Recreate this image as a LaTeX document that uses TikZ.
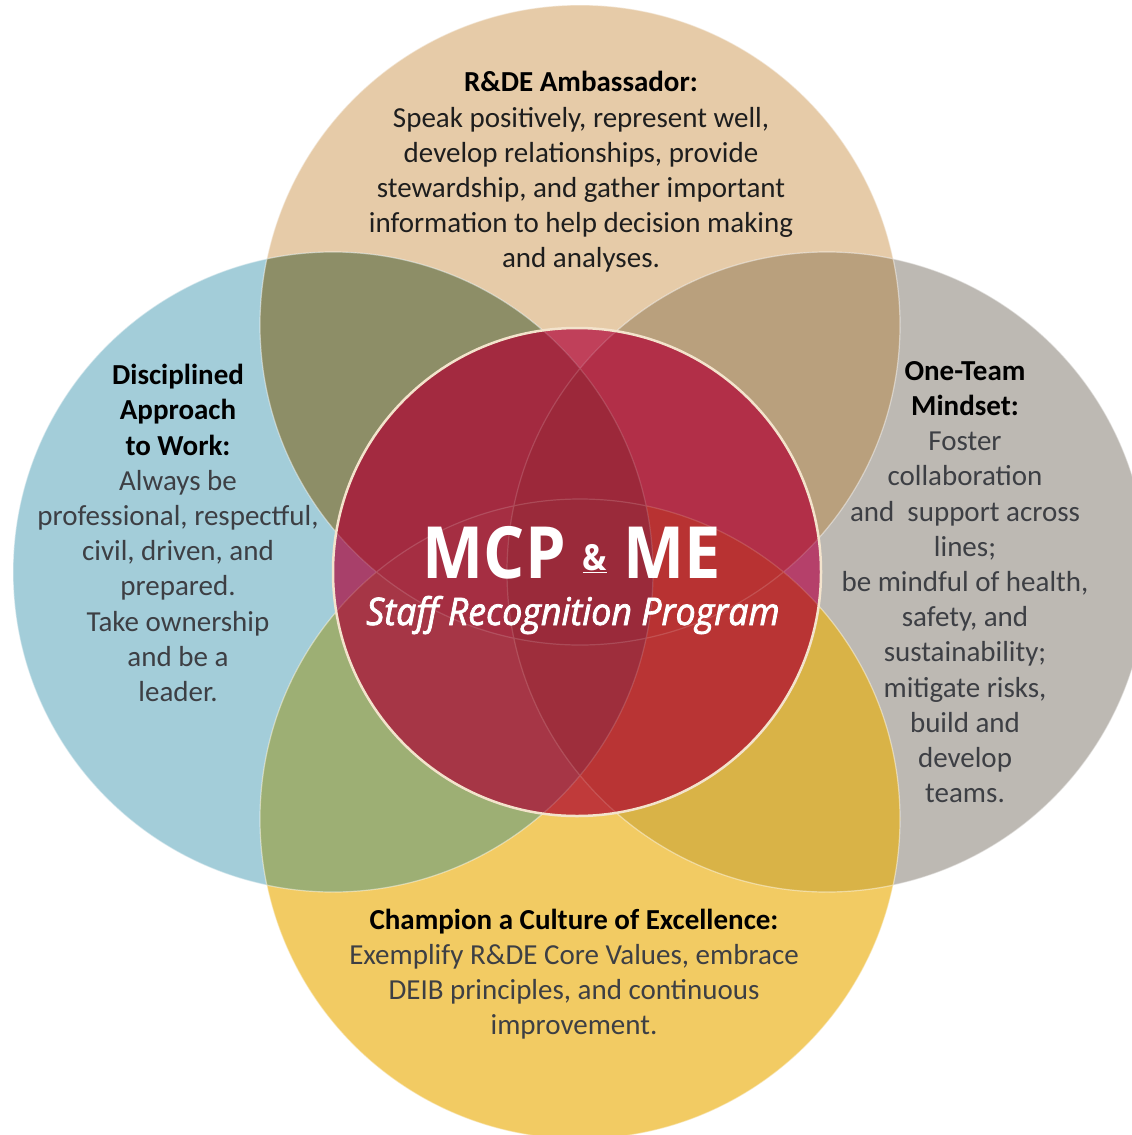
\documentclass[tikz,border=0pt]{standalone}
\usepackage{fontspec}
\setmainfont{Carlito}
\newfontfamily\logofont[FakeStretch=0.9]{Open Sans}
\newfontfamily\tagfont[FakeStretch=0.94,FakeBold=2]{Open Sans}
\usetikzlibrary{positioning}
\definecolor{cTan}{HTML}{E6CBA8}
\definecolor{cBlue}{HTML}{A3CDD9}
\definecolor{cGrey}{HTML}{BDB9B3}
\definecolor{cYel}{HTML}{F2CB63}
\definecolor{cOlive}{HTML}{8D8E67}
\definecolor{cBrown}{HTML}{B9A07D}
\definecolor{cGreen}{HTML}{9DAF74}
\definecolor{cGold}{HTML}{D9B347}
\definecolor{rT}{HTML}{C0405A}
\definecolor{rL}{HTML}{A8406A}
\definecolor{rR}{HTML}{B5406A}
\definecolor{rB}{HTML}{C03A3A}
\definecolor{rTL}{HTML}{A32A40}
\definecolor{rTR}{HTML}{B22F48}
\definecolor{rLB}{HTML}{A63646}
\definecolor{rRB}{HTML}{B93434}
\definecolor{rTLR}{HTML}{9C283A}
\definecolor{rTLB}{HTML}{A52E42}
\definecolor{rTRB}{HTML}{B83232}
\definecolor{rLRB}{HTML}{9E2E3C}
\definecolor{rAll}{HTML}{9A2A3A}
\definecolor{cCream}{HTML}{F3E3CC}
\definecolor{cBody}{HTML}{3D3F44}
\definecolor{cDark}{HTML}{1E1E1E}
\newcommand\ringT{(580,325) circle (320)}
\newcommand\ringL{(333,572) circle (320)}
\newcommand\ringR{(827,572) circle (320)}
\newcommand\ringB{(580,819) circle (320)}
\newcommand\ringM{(577,572) circle (244)}
\newcommand\hd[1]{{\bfseries\color{black}#1}}
\tikzset{
  blurb/.style={align=center,font=\fontsize{29}{35.2}\selectfont,text=cBody,inner sep=0pt},
  seam/.style={draw=white,draw opacity=0.45,line width=1.2pt},
  logo/.style={text=white,inner sep=0pt,anchor=base}
}
\begin{document}
\begin{tikzpicture}[x=1pt,y=-1pt]
\clip (0,0) rectangle (1132,1135);
\fill[white] (0,0) rectangle (1132,1135);
\fill[cTan] \ringT; \fill[cBlue] \ringL; \fill[cGrey] \ringR; \fill[cYel] \ringB;
\begin{scope}\clip \ringT; \fill[cOlive] \ringL; \fill[cBrown] \ringR; \end{scope}
\begin{scope}\clip \ringB; \fill[cGreen] \ringL; \fill[cGold] \ringR; \end{scope}
\draw[seam] \ringT \ringL \ringR \ringB;
\begin{scope}
\clip \ringM;
\fill[rT] \ringT; \fill[rL] \ringL; \fill[rR] \ringR; \fill[rB] \ringB;
\begin{scope}\clip \ringT; \fill[rTL] \ringL; \fill[rTR] \ringR; \end{scope}
\begin{scope}\clip \ringB; \fill[rLB] \ringL; \fill[rRB] \ringR; \end{scope}
\begin{scope}\clip \ringT; \clip \ringL; \fill[rTLR] \ringR; \fill[rTLB] \ringB; \end{scope}
\begin{scope}\clip \ringT; \clip \ringR; \fill[rTRB] \ringB; \end{scope}
\begin{scope}\clip \ringL; \clip \ringR; \fill[rLRB] \ringB; \clip \ringT; \fill[rAll] \ringB; \end{scope}
\draw[seam,draw opacity=0.15] \ringT \ringL \ringR \ringB;
\end{scope}
\draw[cCream,line width=2.5pt] \ringM;
\node[logo,font=\logofont\bfseries\fontsize{72}{72}\selectfont] (NM) at (572,578) {MCP \raisebox{8pt}{\fontsize{36}{36}\selectfont\underline{\&}} ME};
\node[logo,font=\tagfont\itshape\fontsize{38}{38}\selectfont] (NS) at (573,625) {Staff Recognition Program};
\node[blurb,text=cDark] (NT) at (581,172) {\hd{R\&DE Ambassador:}\\Speak positively, represent well,\\develop relationships, provide\\stewardship, and gather important\\information to help decision making\\and analyses.};
\node[blurb] (NL) at (178,533) {\hd{Disciplined}\\\hd{Approach}\\\hd{to Work:}\\Always be\\professional, respectful,\\civil, driven, and\\prepared.\\Take ownership\\and be a\\leader.};
\node[blurb] (NR) at (965,582) {\hd{One-Team}\\\hd{Mindset:}\\Foster\\collaboration\\and~ support across\\lines;\\be mindful of health,\\safety, and\\sustainability;\\mitigate risks,\\build and\\develop\\teams.};
\node[blurb] (NB) at (574,974) {\hd{Champion a Culture of Excellence:}\\Exemplify R\&DE Core Values, embrace\\DEIB principles, and continuous\\improvement.};
\end{tikzpicture}
\end{document}
